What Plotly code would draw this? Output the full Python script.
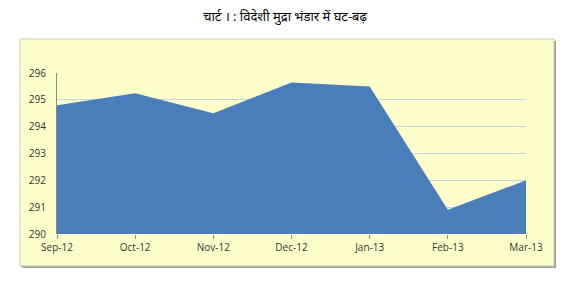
import plotly.graph_objects as go

months = ["Sep-12", "Oct-12", "Nov-12", "Dec-12", "Jan-13", "Feb-13", "Mar-13"]
reserves = [294.8, 295.25, 294.5, 295.65, 295.5, 290.9, 292.0]
y_ticks = [290, 291, 292, 293, 294, 295, 296]
title_text = "चार्ट । : विदेशी मुद्रा भंडार में घट-बढ़"

W, H = 576, 283
L, R, T, B = 57, 50, 73, 49
pw, ph = W - L - R, H - T - B

def px_x(p):
    return (p - L) / pw

def px_y(p):
    return (H - B - p) / ph

fig = go.Figure()
fig.add_trace(go.Scatter(
    x=months, y=reserves, mode="lines", fill="tozeroy",
    line=dict(width=0, color="#4A7EBB"), fillcolor="#4A7EBB",
    hoverinfo="skip", showlegend=False,
))

# chart box shadow and frame
fig.add_shape(type="rect", xref="paper", yref="paper", layer="below",
              x0=px_x(22), x1=px_x(556), y0=px_y(268), y1=px_y(41),
              line=dict(width=0), fillcolor="#A0A0A0")
fig.add_shape(type="rect", xref="paper", yref="paper", layer="below",
              x0=px_x(20), x1=px_x(554), y0=px_y(266), y1=px_y(39),
              line=dict(width=1, color="#C8C8B0"), fillcolor="#FFFFCC")

fig.update_layout(
    width=W, height=H,
    margin=dict(l=L, r=R, t=T, b=B),
    paper_bgcolor="white", plot_bgcolor="rgba(0,0,0,0)",
    title=dict(text=title_text, x=285 / W, xanchor="center",
               y=1 - 16 / H, yanchor="middle",
               font=dict(family="Noto Sans, sans-serif", size=13, color="#000000")),
    xaxis=dict(type="category", range=[0, len(months) - 1],
               showgrid=False, showline=False, zeroline=False,
               ticks="outside", ticklen=4, tickcolor="#8C8C8C",
               tickfont=dict(family="Open Sans, sans-serif", size=10, color="#333333")),
    yaxis=dict(range=[290, 296], tickvals=y_ticks,
               showgrid=True, gridcolor="#C6D4E6", gridwidth=1,
               showline=True, linecolor="#8C8C8C", linewidth=1,
               zeroline=False, ticks="", ticklabelstandoff=8,
               tickfont=dict(family="Open Sans, sans-serif", size=10, color="#333333")),
)

fig.write_html("out.html")
